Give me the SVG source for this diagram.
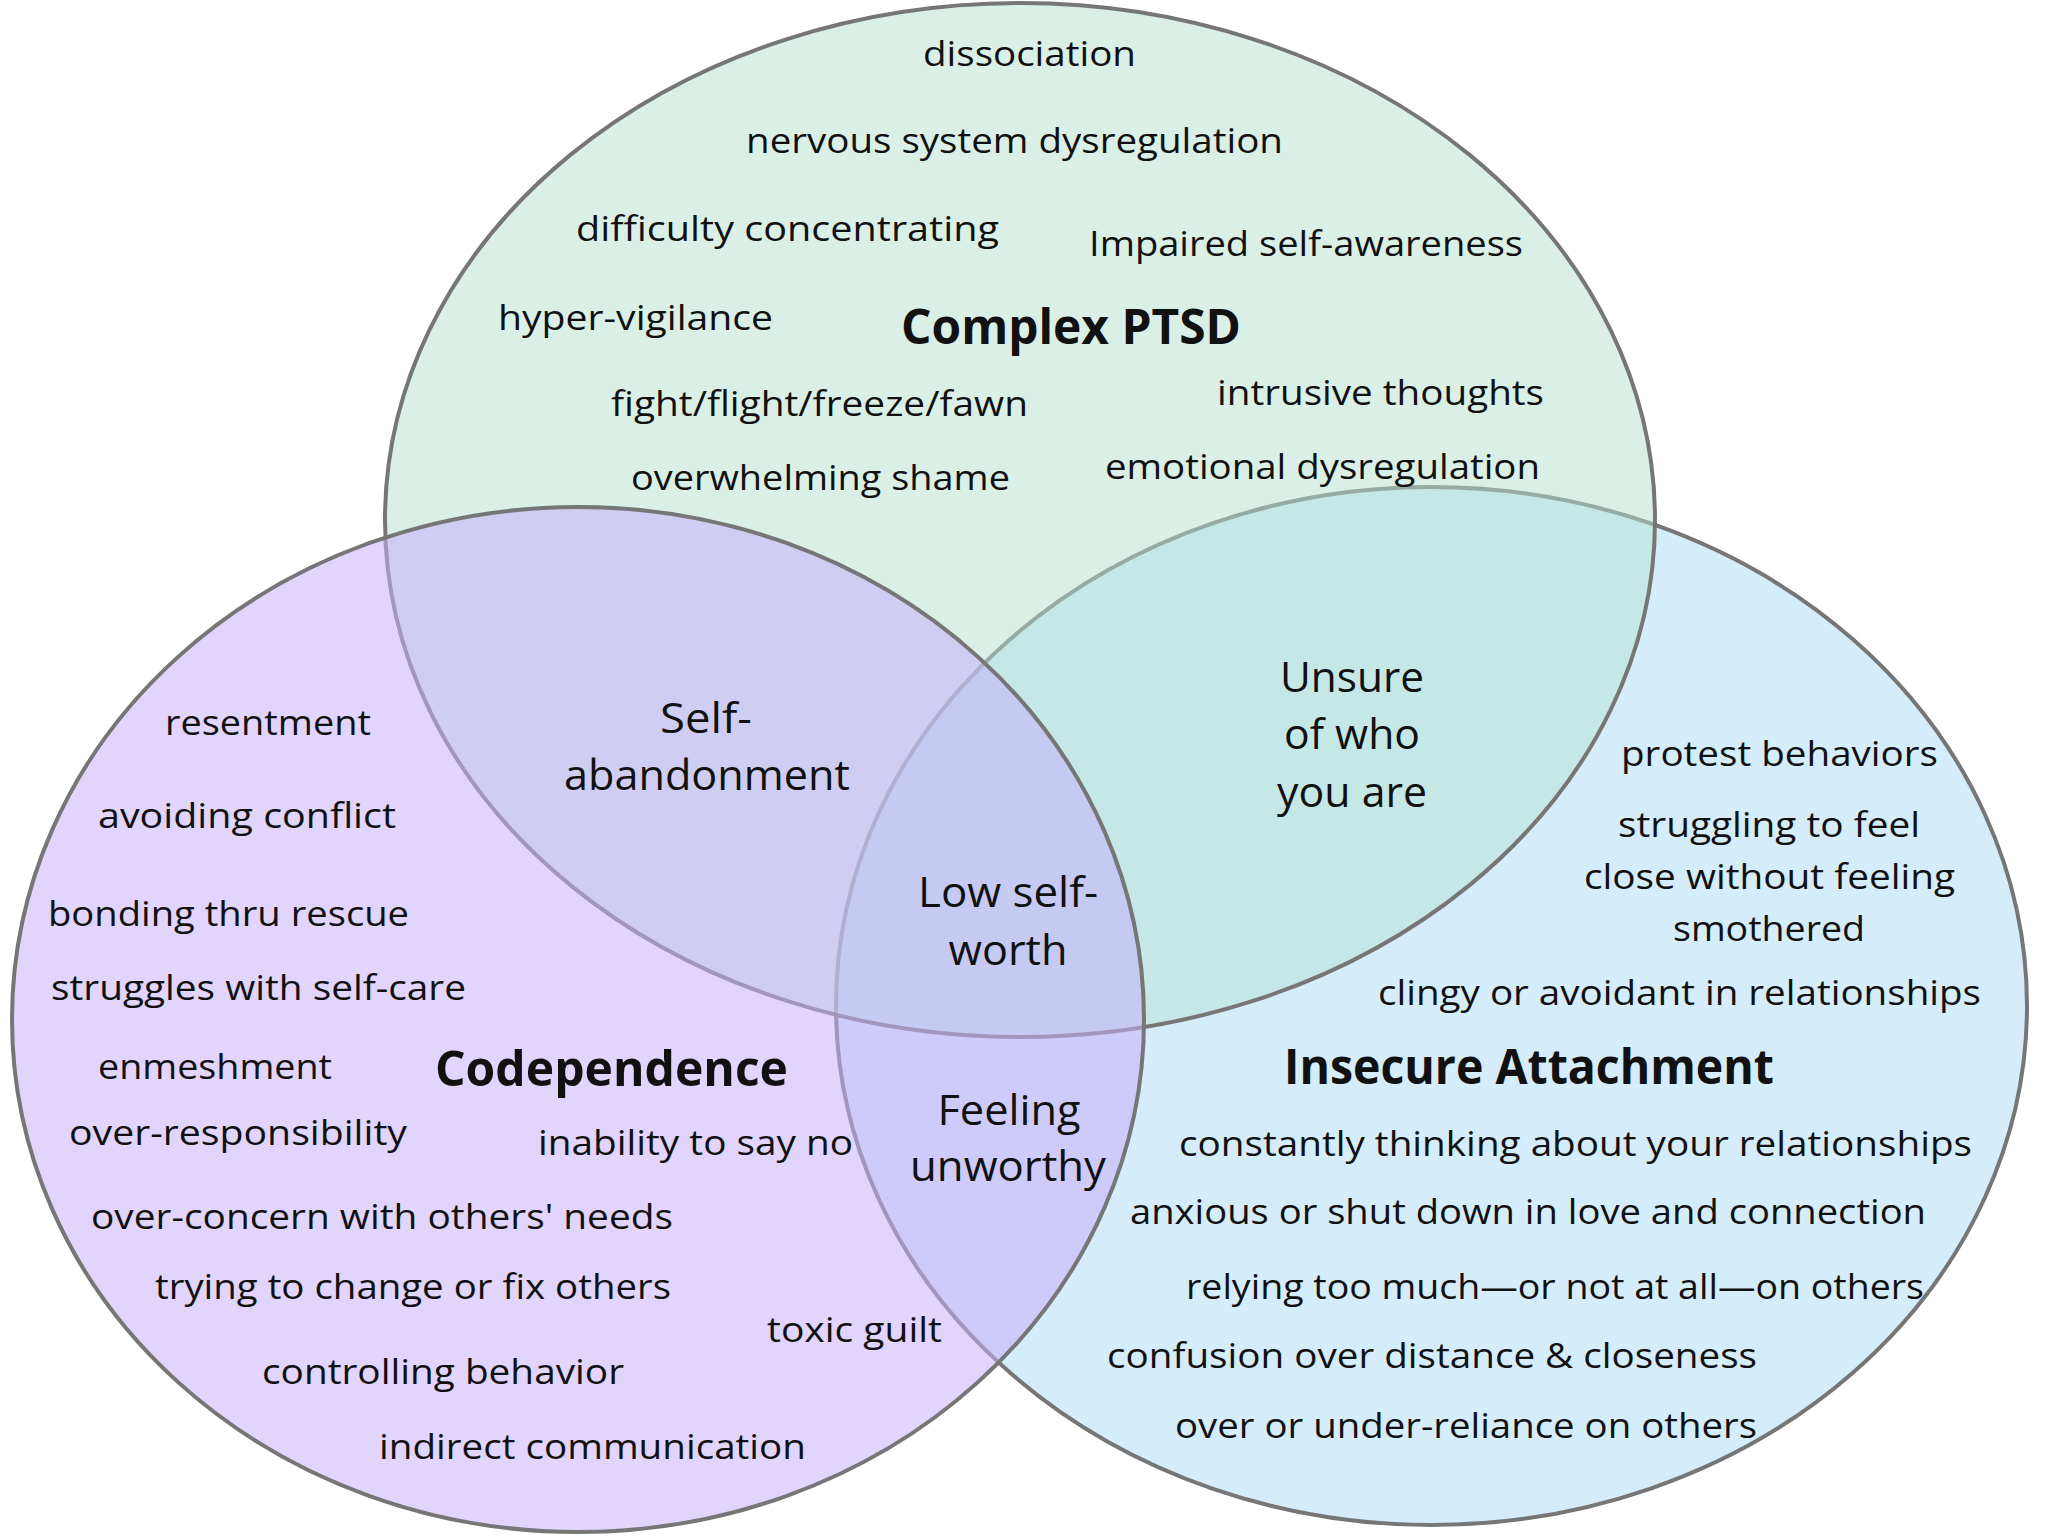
<svg xmlns="http://www.w3.org/2000/svg" width="2048" height="1536" viewBox="0 0 2048 1536">
<style>
.e{stroke:#767676;stroke-width:4}
.t{font-family:"Open Sans","Noto Sans",sans-serif;font-size:34px;fill:#111}
.m{font-size:42px}
.b{font-size:48px;font-weight:700}
.c{text-anchor:middle}
</style>
<rect width="2048" height="1536" fill="#ffffff"/>
<g id="insecure-attachment-circle">
<ellipse class="e" cx="1431.5" cy="1006" rx="595.5" ry="519" fill="#D5ECFB"/>
</g>
<g id="complex-ptsd-circle">
<ellipse class="e" cx="1020" cy="520" rx="635" ry="517" fill="rgb(181,225,207)" fill-opacity="0.5"/>
</g>
<g id="codependence-circle">
<ellipse class="e" cx="578" cy="1019.5" rx="566" ry="512.5" fill="rgb(199,175,251)" fill-opacity="0.54"/>
</g>
<g id="complex-ptsd-text" class="t">
<text x="923" y="66" textLength="213" lengthAdjust="spacingAndGlyphs">dissociation</text>
<text x="746" y="153" textLength="537" lengthAdjust="spacingAndGlyphs">nervous system dysregulation</text>
<text x="576" y="241" textLength="423" lengthAdjust="spacingAndGlyphs">difficulty concentrating</text>
<text x="1089" y="256" textLength="434" lengthAdjust="spacingAndGlyphs">Impaired self-awareness</text>
<text x="498" y="330" textLength="275" lengthAdjust="spacingAndGlyphs">hyper-vigilance</text>
<text class="b" x="901" y="344" textLength="340" lengthAdjust="spacingAndGlyphs">Complex PTSD</text>
<text x="611" y="416" textLength="417" lengthAdjust="spacingAndGlyphs">fight/flight/freeze/fawn</text>
<text x="1217" y="405" textLength="327" lengthAdjust="spacingAndGlyphs">intrusive thoughts</text>
<text x="631" y="490" textLength="379" lengthAdjust="spacingAndGlyphs">overwhelming shame</text>
<text x="1105" y="479" textLength="435" lengthAdjust="spacingAndGlyphs">emotional dysregulation</text>
</g>
<g id="overlap-text" class="t m">
<text class="c" x="706" y="733" textLength="92" lengthAdjust="spacingAndGlyphs">Self-</text>
<text class="c" x="707" y="790" textLength="286" lengthAdjust="spacingAndGlyphs">abandonment</text>
<text class="c" x="1352" y="692" textLength="144" lengthAdjust="spacingAndGlyphs">Unsure</text>
<text class="c" x="1352" y="749" textLength="136" lengthAdjust="spacingAndGlyphs">of who</text>
<text class="c" x="1352" y="807" textLength="150" lengthAdjust="spacingAndGlyphs">you are</text>
<text class="c" x="1008" y="907" textLength="180" lengthAdjust="spacingAndGlyphs">Low self-</text>
<text class="c" x="1008" y="965" textLength="119" lengthAdjust="spacingAndGlyphs">worth</text>
<text class="c" x="1009" y="1125" textLength="143" lengthAdjust="spacingAndGlyphs">Feeling</text>
<text class="c" x="1008" y="1181" textLength="196" lengthAdjust="spacingAndGlyphs">unworthy</text>
</g>
<g id="codependence-text" class="t">
<text x="165" y="735" textLength="206" lengthAdjust="spacingAndGlyphs">resentment</text>
<text x="98" y="828" textLength="298" lengthAdjust="spacingAndGlyphs">avoiding conflict</text>
<text x="48" y="926" textLength="361" lengthAdjust="spacingAndGlyphs">bonding thru rescue</text>
<text x="51" y="1000" textLength="415" lengthAdjust="spacingAndGlyphs">struggles with self-care</text>
<text x="98" y="1079" textLength="234" lengthAdjust="spacingAndGlyphs">enmeshment</text>
<text class="b" x="435" y="1086" textLength="353" lengthAdjust="spacingAndGlyphs">Codependence</text>
<text x="69" y="1145" textLength="338" lengthAdjust="spacingAndGlyphs">over-responsibility</text>
<text x="538" y="1155" textLength="315" lengthAdjust="spacingAndGlyphs">inability to say no</text>
<text x="91" y="1229" textLength="582" lengthAdjust="spacingAndGlyphs">over-concern with others' needs</text>
<text x="155" y="1299" textLength="516" lengthAdjust="spacingAndGlyphs">trying to change or fix others</text>
<text x="767" y="1342" textLength="175" lengthAdjust="spacingAndGlyphs">toxic guilt</text>
<text x="262" y="1384" textLength="362" lengthAdjust="spacingAndGlyphs">controlling behavior</text>
<text x="379" y="1459" textLength="427" lengthAdjust="spacingAndGlyphs">indirect communication</text>
</g>
<g id="insecure-attachment-text" class="t">
<text x="1621" y="766" textLength="317" lengthAdjust="spacingAndGlyphs">protest behaviors</text>
<text x="1618" y="837" textLength="302" lengthAdjust="spacingAndGlyphs">struggling to feel</text>
<text x="1584" y="889" textLength="371" lengthAdjust="spacingAndGlyphs">close without feeling</text>
<text x="1673" y="941" textLength="192" lengthAdjust="spacingAndGlyphs">smothered</text>
<text x="1378" y="1005" textLength="603" lengthAdjust="spacingAndGlyphs">clingy or avoidant in relationships</text>
<text class="b" x="1284" y="1084" textLength="490" lengthAdjust="spacingAndGlyphs">Insecure Attachment</text>
<text x="1179" y="1156" textLength="793" lengthAdjust="spacingAndGlyphs">constantly thinking about your relationships</text>
<text x="1130" y="1224" textLength="796" lengthAdjust="spacingAndGlyphs">anxious or shut down in love and connection</text>
<text x="1186" y="1299" textLength="738" lengthAdjust="spacingAndGlyphs">relying too much—or not at all—on others</text>
<text x="1107" y="1368" textLength="650" lengthAdjust="spacingAndGlyphs">confusion over distance &amp; closeness</text>
<text x="1175" y="1438" textLength="582" lengthAdjust="spacingAndGlyphs">over or under-reliance on others</text>
</g>
</svg>
